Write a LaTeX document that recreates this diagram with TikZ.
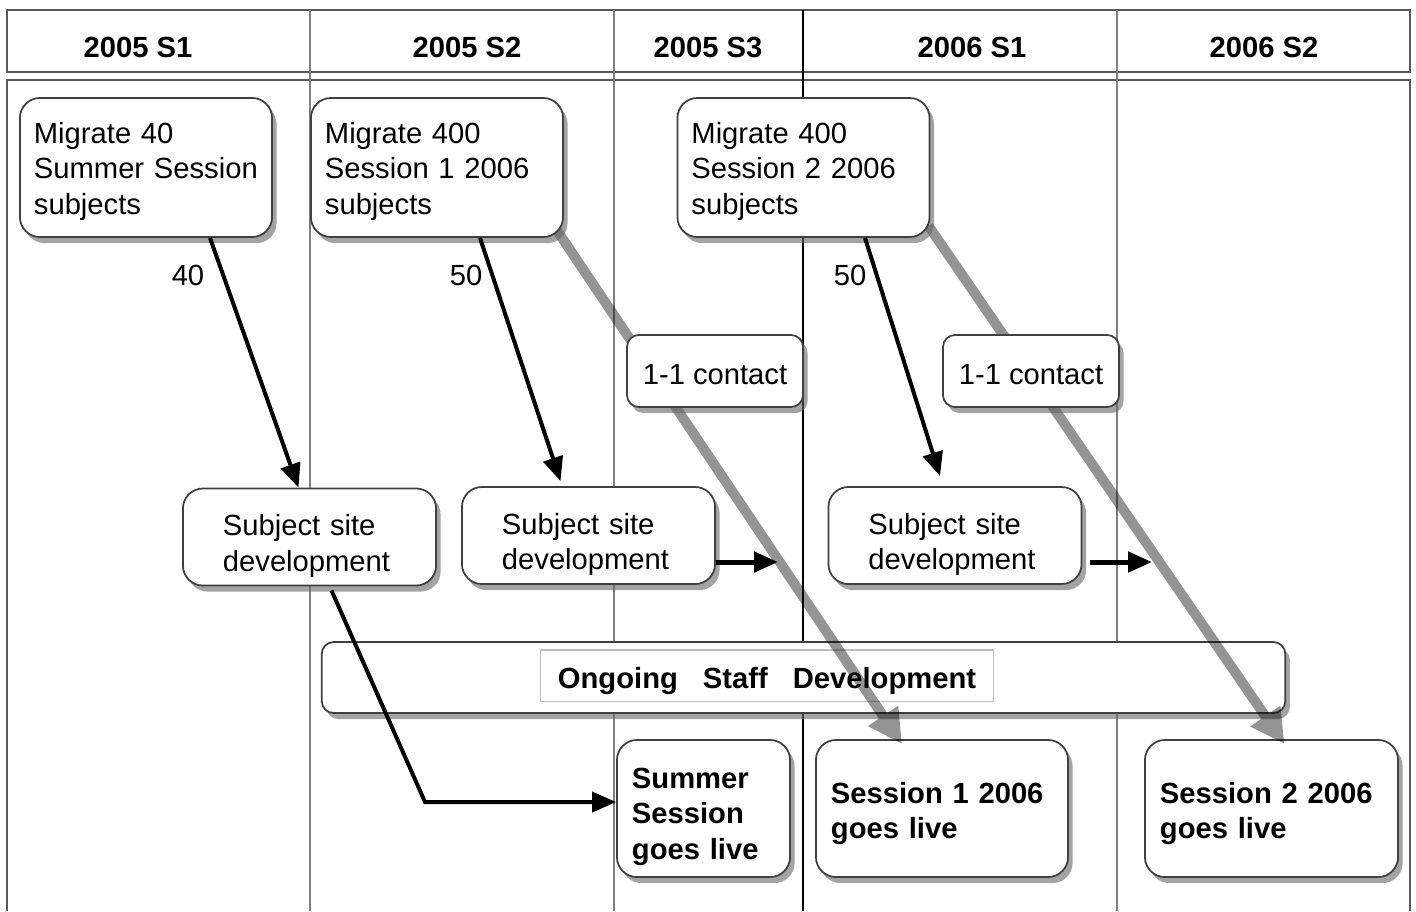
\documentclass[tikz,border=0pt]{standalone}
\usepackage{fontspec}
\setmainfont{Liberation Sans}
\usetikzlibrary{shadows,arrows.meta,calc}
\pgfdeclarelayer{back}
\pgfdeclarelayer{flow}
\pgfsetlayers{back,flow,main}

\begin{document}
\begin{tikzpicture}[
        x=0.01cm, y=-0.01cm,
        every node/.style={font=\fontsize{8.3}{10}\selectfont},
        box/.style={draw=black!75, fill=white, line width=0.5pt, rounded corners=0.2cm,
            drop shadow={shadow xshift=0.045cm, shadow yshift=-0.06cm, fill=black!60, opacity=0.6}},
        topstrut/.style={execute at begin node={\rule{0pt}{#1}}},
        task/.style={box, align=left, text width=2.24cm, inner xsep=0.14cm, minimum height=1.39cm,
            topstrut=0.29cm},
        contact/.style={box, rounded corners=0.12cm, minimum width=1.76cm, minimum height=0.72cm,
            text height=0.27cm, text depth=0pt},
        devbox/.style={box, align=left, text width=1.73cm, inner xsep=0.4cm, inner ysep=0.05cm,
            minimum height=0.97cm, topstrut=0.39cm},
        livebox/.style={box, align=left, inner xsep=0.15cm, inner ysep=0.05cm, minimum height=1.37cm,
            font=\fontsize{8.3}{10.2}\selectfont\bfseries},
        hdr/.style={font=\fontsize{8.3}{10}\selectfont\bfseries},
        % hdr/.style={font=\bfseries},
        blackarrow/.style={draw=black, line width=0.04cm, -{Triangle[length=0.24cm,width=0.2cm]}},
        grayarrow/.style={draw=black, line width=0.1cm, -{Triangle[length=0.34cm,width=0.34cm]}},
    ]
    \useasboundingbox (0,0) rectangle (1416,911);

    \begin{pgfonlayer}{back}
        % frame and semester columns
        \draw[black!65, line width=0.2mm] (7,10) rectangle (1410,72);
        \draw[black!65, line width=0.2mm] (7,911) -- (7,80) -- (1410,80) -- (1410,911);
        \foreach \cx in {310,614,1117}
            \draw[black!50, line width=0.15mm] (\cx,10) -- (\cx,911);
        \draw[black, line width=0.2mm] (803,10) -- (803,911);
        \node (og) [box, rounded corners=0.12cm, minimum width=9.63cm, minimum height=0.71cm] at (803.5,677.5) {};
        \node (ogl) [draw=black!25, line width=0.3pt, fill=white, minimum width=4.52cm, minimum height=0.51cm,
            inner ysep=0.05cm, text height=0.31cm, text depth=0.06cm,
            font=\fontsize{8.3}{10}\selectfont\bfseries] at (767,675.5)
            {Ongoing\hspace{0.25cm}Staff\hspace{0.25cm}Development};

        \node (g1) [livebox, text width=1.43cm, topstrut=0.37cm] at (703.5,808.5) {Summer\\Session\\goes live};
        \node (g2) [livebox, text width=2.22cm, topstrut=0.31cm] at (942,808.5) {Session 1 2006\\goes live};
        \node (g3) [livebox, text width=2.23cm, topstrut=0.31cm] at (1271.5,808.5) {Session 2 2006\\goes live};
    \end{pgfonlayer}

    \foreach \hx/\htext [count=\i] in {138/2005 S1, 467/2005 S2, 708/2005 S3, 972/2006 S1, 1264/2006 S2}
        \node (h\i) [hdr] at (\hx,47) {\htext};

    \node (m1) [task] at (146,167.5) {Migrate 40\\Summer Session\\subjects};
    \node (m2) [task] at (437,167.5) {Migrate 400\\Session 1 2006\\subjects};
    \node (m3) [task] at (803.5,167.5) {Migrate 400\\Session 2 2006\\subjects};

    \node (c1) [contact] at (715,371) {1-1 contact};
    \node (c2) [contact] at (1031,371) {1-1 contact};

    \node (d1) [devbox] at (309.5,537) {Subject site\\development};
    \node (d2) [devbox] at (588.5,535.5) {Subject site\\development};
    \node (d3) [devbox] at (955,535.5) {Subject site\\development};

    \node (n1) at (188,275) {40};
    \node (n2) at (466,275) {50};
    \node (n3) at (850,275) {50};

    \coordinate (e2) at (778,562);
    \coordinate (e3) at (1152,562);
    \coordinate (bend) at (425,802);

    % migration flows
    \draw[blackarrow] ($(m1.south)+(64,0)$) -- ($(d1.north)+(-11,0)$);
    \draw[blackarrow] ($(m2.south)+(43,0)$) -- ($(d2.north)+(-28,-5)$);
    \draw[blackarrow] ($(m3.south)+(61.5,0)$) -- ($(d3.north)+(-15,-10)$);
    \draw[blackarrow, line width=0.05cm] (d2.east |- e2) -- (e2);
    \draw[blackarrow, line width=0.05cm] ($(d3.east |- e3)+(8,0)$) -- (e3);
    \draw[blackarrow] ($(d1.south)+(22,4)$) -- (bend) -- (g1.west |- bend);

    \begin{pgfonlayer}{flow}
        \begin{scope}[transparency group, opacity=0.42]
            \draw[grayarrow] ($(m2.south east)+(-8,-9)$) -- ($(g2.north)+(-40,5)$);
            \draw[grayarrow] ($(m3.south east)+(-2,-12)$) -- ($(g3.north)+(13,5)$);
        \end{scope}
    \end{pgfonlayer}
\end{tikzpicture}
\end{document}
